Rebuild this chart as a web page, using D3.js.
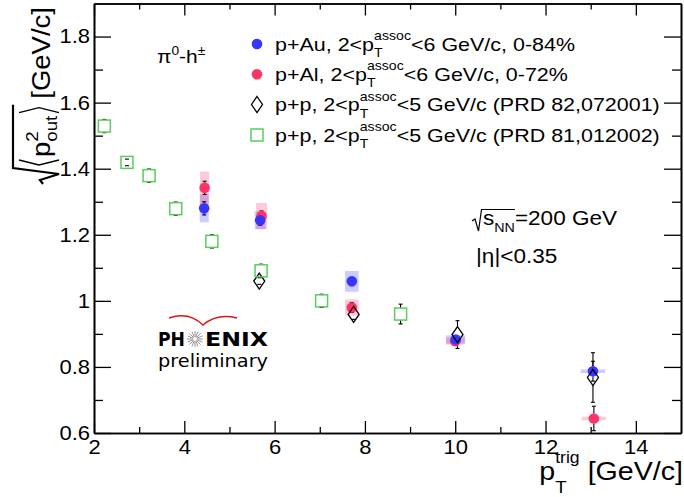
<!DOCTYPE html>
<html><head><meta charset="utf-8">
<script src="https://cdn.jsdelivr.net/npm/d3@7"></script>
<style>
html,body{margin:0;padding:0;background:#fff;}
svg{display:block;font-family:"Liberation Sans",Arial,sans-serif;}
.tk text{transform-box:fill-box;}
</style></head>
<body>
<svg id="c" width="684" height="497"></svg>
<script>
// ---------------- data ----------------
const xTicks = [2, 4, 6, 8, 10, 12, 14];
const xMinor = [3, 5, 7, 9, 11, 13, 15];
const yTicks = [0.6, 0.8, 1, 1.2, 1.4, 1.6, 1.8];
const yMinor = [0.7, 0.9, 1.1, 1.3, 1.5, 1.7, 1.9];

// p+Au, 2<pT assoc<6 GeV/c, 0-84%
const pAuX    = [4.44, 5.68, 7.71, 10.01, 13.05];
const pAuY    = [1.280, 1.244, 1.059, 0.883, 0.787];
const pAuStat = [0.020, 0.015, 0.012, 0.012, 0.030];
const pAuSys  = [0.040, 0.025, 0.029, 0.010, 0.003];
const pAuSysW = [0.10, 0.12, 0.15, 0.21, 0.27];

// p+Al, 2<pT assoc<6 GeV/c, 0-72%
const pAlX    = [4.45, 5.71, 7.71, 10.00, 13.07];
const pAlY    = [1.342, 1.257, 0.980, 0.878, 0.644];
const pAlStat = [0.020, 0.015, 0.015, 0.010, 0.037];
const pAlSys  = [0.047, 0.037, 0.022, 0.008, 0.003];
const pAlSysW = [0.10, 0.12, 0.15, 0.21, 0.27];

// p+p, PRD 82,072001
const pp1X   = [5.66, 7.75, 10.05, 13.05];
const pp1Y   = [1.060, 0.959, 0.898, 0.768];
const pp1Err = [0.010, 0.015, 0.042, 0.075];

// p+p, PRD 81,012002
const pp2X   = [2.23, 2.73, 3.22, 3.81, 4.61, 5.70, 7.04, 8.79];
const pp2Y   = [1.529, 1.419, 1.379, 1.279, 1.180, 1.091, 1.000, 0.960];
const pp2Err = [0.020, 0.010, 0.020, 0.020, 0.020, 0.020, 0.020, 0.030];

// ---------------- setup ----------------
const SX = 1.1;               // horizontal stretch of the text glyphs
const BLUE = "#3636ff", RED = "#ff3366", GREEN = "#5ccc5c";
const svg = d3.select("#c");
const L = 94, R = 681, T = 3.5, B = 433;
const x = d3.scaleLinear().domain([2, 15]).range([L, R]);
const y = d3.scaleLinear().domain([0.6, 1.9]).range([B, T]);

// rich text helper: items laid out left to right, stacks share x
function rich(parent, px, py, items, opt = {}) {
  const sx = opt.sx ?? SX;
  const g = parent.append("g").attr("fill", opt.fill || "#000");
  if (opt.family) g.attr("font-family", opt.family);
  let cx = 0; const pos = [];
  items.forEach(it => {
    pos.push(cx);
    const list = it.stack ? it.stack : [it];
    let w = 0;
    list.forEach(s => {
      const t = g.append("text").attr("x", cx).attr("y", s.dy || 0)
        .attr("font-size", s.size).text(s.t);
      w = Math.max(w, t.node().getComputedTextLength());
    });
    cx += w + (it.gap || 0);
  });
  pos.push(cx);
  const W = cx * sx;
  const ox = opt.anchor === "end" ? px - W : opt.anchor === "middle" ? px - W / 2 : px;
  g.attr("transform", `translate(${ox},${py}) scale(${sx},1)`);
  return { g, pos: pos.map(p => p * sx), ox };
}

// ---------------- axes ----------------
function styleAxis(g) {
  g.selectAll("path.domain").attr("stroke", "#000").attr("stroke-width", 1.6);
  g.selectAll(".tick line").attr("stroke", "#000").attr("stroke-width", 1.3);
}
const gx = svg.append("g").attr("class", "tk").attr("transform", `translate(0,${B})`)
  .call(d3.axisBottom(x).tickValues(xTicks).tickSize(-12).tickSizeOuter(0).tickPadding(7).tickFormat(d3.format("~g")));
gx.selectAll("text").attr("font-size", 20).attr("fill", "#000")
  .style("font-family", "Liberation Sans, Arial, sans-serif")
  .style("transform-origin", "center").style("transform", `scaleX(${SX})`);
styleAxis(gx);
styleAxis(svg.append("g").attr("transform", `translate(0,${B})`)
  .call(d3.axisBottom(x).tickValues(xMinor.filter(v => v < 15)).tickSize(-6).tickSizeOuter(0).tickFormat("")));
styleAxis(svg.append("g").attr("transform", `translate(0,${T})`)
  .call(d3.axisTop(x).tickValues(xTicks).tickSize(-12).tickSizeOuter(0).tickFormat("")));
styleAxis(svg.append("g").attr("transform", `translate(0,${T})`)
  .call(d3.axisTop(x).tickValues(xMinor.filter(v => v < 15)).tickSize(-6).tickSizeOuter(0).tickFormat("")));

const gy = svg.append("g").attr("class", "tk").attr("transform", `translate(${L},0)`)
  .call(d3.axisLeft(y).tickValues(yTicks).tickSize(-17).tickSizeOuter(0).tickPadding(4).tickFormat(d3.format("~g")));
gy.selectAll("text").attr("font-size", 20).attr("fill", "#000")
  .style("font-family", "Liberation Sans, Arial, sans-serif")
  .style("transform-origin", "right center").style("transform", `scaleX(${SX})`);
styleAxis(gy);
styleAxis(svg.append("g").attr("transform", `translate(${L},0)`)
  .call(d3.axisLeft(y).tickValues(yMinor.filter(v => v < 1.9)).tickSize(-9).tickSizeOuter(0).tickFormat("")));
styleAxis(svg.append("g").attr("transform", `translate(${R},0)`)
  .call(d3.axisRight(y).tickValues(yTicks).tickSize(-17).tickSizeOuter(0).tickFormat("")));
styleAxis(svg.append("g").attr("transform", `translate(${R},0)`)
  .call(d3.axisRight(y).tickValues(yMinor.filter(v => v < 1.9)).tickSize(-9).tickSizeOuter(0).tickFormat("")));

// ---------------- data marks ----------------
const plot = svg.append("g");
function sysBoxes(xs, ys, es, ws, fill) {
  plot.append("g").selectAll("rect").data(xs).join("rect")
    .attr("x", (d, i) => x(d - ws[i])).attr("width", (d, i) => x(d + ws[i]) - x(d - ws[i]))
    .attr("y", (d, i) => y(ys[i] + es[i]) - 0.8)
    .attr("height", (d, i) => y(ys[i] - es[i]) - y(ys[i] + es[i]) + 1.6)
    .attr("fill", fill);
}
function errBars(xs, ys, es, half) {
  const g = plot.append("g").attr("stroke", "#000").attr("stroke-width", 1.1);
  xs.forEach((d, i) => {
    const cx = x(d), yt = y(ys[i] + es[i]), yb = y(ys[i] - es[i]), yc = y(ys[i]);
    if (yc - yt > half) {
      g.append("line").attr("x1", cx).attr("x2", cx).attr("y1", yt).attr("y2", yc - half);
      g.append("line").attr("x1", cx).attr("x2", cx).attr("y1", yc + half).attr("y2", yb);
    }
    g.append("line").attr("x1", cx - 2).attr("x2", cx + 2).attr("y1", yt).attr("y2", yt);
    g.append("line").attr("x1", cx - 2).attr("x2", cx + 2).attr("y1", yb).attr("y2", yb);
  });
}
sysBoxes(pAuX, pAuY, pAuSys, pAuSysW, "rgba(40,40,255,0.24)");
sysBoxes(pAlX, pAlY, pAlSys, pAlSysW, "rgba(255,30,90,0.24)");
errBars(pAlX, pAlY, pAlStat, 5);
errBars(pAuX, pAuY, pAuStat, 5);
errBars(pp1X, pp1Y, pp1Err, 8);
errBars(pp2X, pp2Y, pp2Err, 6);

plot.append("g").selectAll("circle").data(pAlX).join("circle")
  .attr("cx", d => x(d)).attr("cy", (d, i) => y(pAlY[i])).attr("r", 5.3).attr("fill", RED);
plot.append("g").selectAll("circle").data(pAuX).join("circle")
  .attr("cx", d => x(d)).attr("cy", (d, i) => y(pAuY[i])).attr("r", 5.3).attr("fill", BLUE);
const diamond = (cx, cy) => `M${cx},${cy - 8}L${cx + 5.5},${cy}L${cx},${cy + 8}L${cx - 5.5},${cy}Z`;
plot.append("g").selectAll("path").data(pp1X).join("path")
  .attr("d", (d, i) => diamond(x(d), y(pp1Y[i])))
  .attr("fill", "none").attr("stroke", "#000").attr("stroke-width", 1.3);
plot.append("g").selectAll("rect").data(pp2X).join("rect")
  .attr("x", d => x(d) - 6).attr("y", (d, i) => y(pp2Y[i]) - 6)
  .attr("width", 12).attr("height", 12)
  .attr("fill", "none").attr("stroke", GREEN).attr("stroke-width", 1.5);

// ---------------- legend ----------------
const legX = 257, legY = [44, 74.3, 104.5, 135], txtX = 275;
svg.append("circle").attr("cx", legX).attr("cy", legY[0]).attr("r", 5.3).attr("fill", BLUE);
svg.append("circle").attr("cx", legX).attr("cy", legY[1]).attr("r", 5.3).attr("fill", RED);
svg.append("path").attr("d", diamond(legX, legY[2])).attr("fill", "none").attr("stroke", "#000").attr("stroke-width", 1.3);
svg.append("rect").attr("x", legX - 6).attr("y", legY[3] - 6).attr("width", 12).attr("height", 12)
  .attr("fill", "none").attr("stroke", GREEN).attr("stroke-width", 1.5);
const legText = [
  ["p+Au, 2<p", "<6 GeV/c, 0-84%"],
  ["p+Al, 2<p", "<6 GeV/c, 0-72%"],
  ["p+p, 2<p", "<5 GeV/c (PRD 82,072001)"],
  ["p+p, 2<p", "<5 GeV/c (PRD 81,012002)"]
];
legText.forEach((r, i) => {
  rich(svg, txtX, legY[i] + 6.5, [
    { t: r[0].replace(/ /g, "\u00A0"), size: 19 },
    { stack: [{ t: "assoc", size: 12.5, dy: -10.5 }, { t: "T", size: 12.5, dy: 6.5 }] },
    { t: r[1].replace(/ /g, "\u00A0"), size: 19 }
  ], { sx: 1.13 });
});

// pi0-h±
rich(svg, 157, 63, [
  { t: "\u03C0", size: 19 }, { t: "0", size: 12.5, dy: -8 },
  { t: "-h", size: 19 }, { t: "\u00B1", size: 12.5, dy: -8 }
]);

// sqrt(s_NN)=200 GeV
const sn = rich(svg, 483, 225, [
  { t: "s", size: 20.5 }, { t: "NN", size: 13, dy: 7 }, { t: "=200\u00A0GeV", size: 20.5 }
]);
svg.append("path")
  .attr("d", `M472,221L475,219L478.5,231L481.5,209.5L${sn.ox + sn.pos[2]},209.5`)
  .attr("fill", "none").attr("stroke", "#000").attr("stroke-width", 1.2);
rich(svg, 476, 263, [{ t: "|\u03B7|<0.35", size: 20.5 }]);

// ---------------- axis titles ----------------
rich(svg, 683, 480, [
  { t: "p", size: 26 },
  { stack: [{ t: "trig", size: 16, dy: -17 }, { t: "T", size: 17, dy: 13 }] },
  { t: "\u00A0[GeV/c]", size: 26 }
], { anchor: "end" });

const yt = svg.append("g").attr("transform", "translate(50,178) rotate(-90)");
const c1 = 21;
const inner = rich(yt, c1, 0, [
  { t: "p", size: 25 },
  { stack: [{ t: "2", size: 17, dy: -12 }, { t: "out", size: 17, dy: 7 }] }
]);
const bEnd = c1 + inner.pos[2] + 3;
yt.append("path").attr("d", `M${c1 - 3},-31L${c1 - 8},-11L${c1 - 3},9`).attr("fill", "none").attr("stroke", "#000").attr("stroke-width", 1.3);
yt.append("path").attr("d", `M${bEnd},-31L${bEnd + 5},-11L${bEnd},9`).attr("fill", "none").attr("stroke", "#000").attr("stroke-width", 1.3);
yt.append("path").attr("d", `M-6,-7L-2,-10L4,9L10,-37L${bEnd + 8},-37`)
  .attr("fill", "none").attr("stroke", "#000").attr("stroke-width", 2.2).attr("stroke-linejoin", "miter");
rich(yt, bEnd + 14, 0, [{ t: "[GeV/c]", size: 25 }]);

// ---------------- PHENIX logo ----------------
const logo = svg.append("g").attr("font-family", "DejaVu Sans, sans-serif");
logo.append("path").attr("d", "M169,318Q189,311 203,325Q217,313 237,318")
  .attr("fill", "none").attr("stroke", "#e01010").attr("stroke-width", 1.5);
logo.append("text").attr("x", 158).attr("y", 346).attr("font-size", 19).attr("font-weight", "bold")
  .attr("textLength", 27).attr("lengthAdjust", "spacingAndGlyphs").text("PH");
logo.append("text").attr("x", 205).attr("y", 346).attr("font-size", 19).attr("font-weight", "bold")
  .attr("textLength", 63).attr("lengthAdjust", "spacingAndGlyphs").text("ENIX");
logo.append("text").attr("x", 158).attr("y", 367).attr("font-size", 17.5)
  .attr("textLength", 110).attr("lengthAdjust", "spacingAndGlyphs").text("preliminary");
const star = logo.append("g").attr("stroke", "#888").attr("stroke-width", 0.9);
d3.range(16).forEach(k => {
  const a = k * Math.PI / 8;
  star.append("line").attr("x1", 195 + 2 * Math.cos(a)).attr("y1", 339 + 2 * Math.sin(a))
    .attr("x2", 195 + 8 * Math.cos(a)).attr("y2", 339 + 8 * Math.sin(a));
});
</script>
</body></html>
